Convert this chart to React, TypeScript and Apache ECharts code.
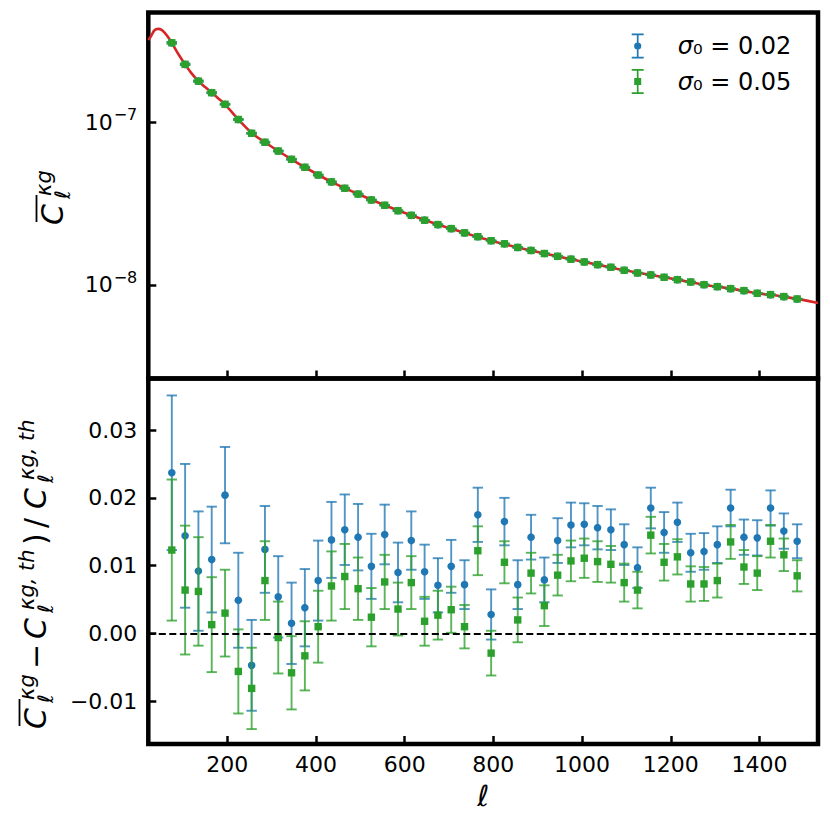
import React, { useEffect, useRef } from 'react';
import * as echarts from 'echarts';

// multipole bin centres
const ells = [75, 105, 135, 165, 195, 225, 255, 285, 315, 345, 375, 405, 435, 465, 495, 525, 555, 585, 615, 645, 675, 705, 735, 765, 795, 825, 855, 885, 915, 945, 975, 1005, 1035, 1065, 1095, 1125, 1155, 1185, 1215, 1245, 1275, 1305, 1335, 1365, 1395, 1425, 1455, 1485];

// measured mean spectrum (top panel)
const topValues = [3.08e-7, 2.27e-7, 1.79e-7, 1.52e-7, 1.29e-7, 1.04e-7, 8.56e-8, 7.54e-8, 6.66e-8, 5.92e-8, 5.29e-8, 4.74e-8, 4.30e-8, 3.93e-8, 3.62e-8, 3.33e-8, 3.09e-8, 2.86e-8, 2.68e-8, 2.50e-8, 2.35e-8, 2.22e-8, 2.09e-8, 1.98e-8, 1.87e-8, 1.79e-8, 1.70e-8, 1.63e-8, 1.56e-8, 1.50e-8, 1.44e-8, 1.385e-8, 1.333e-8, 1.285e-8, 1.231e-8, 1.185e-8, 1.152e-8, 1.115e-8, 1.078e-8, 1.043e-8, 1.004e-8, 9.76e-9, 9.49e-9, 9.23e-9, 8.89e-9, 8.72e-9, 8.48e-9, 8.20e-9];

// relative residuals, sigma0 = 0.02
const blueRes = [0.0237, 0.0144, 0.0092, 0.0109, 0.0204, 0.0049, -0.0047, 0.0124, 0.0054, 0.0015, 0.0038, 0.0078, 0.0138, 0.0153, 0.0142, 0.0099, 0.0146, 0.0090, 0.0137, 0.0091, 0.0071, 0.0099, 0.0072, 0.0175, 0.0028, 0.0165, 0.0072, 0.0142, 0.0079, 0.0137, 0.0160, 0.0161, 0.0156, 0.0153, 0.0131, 0.0097, 0.0185, 0.0149, 0.0164, 0.0119, 0.0121, 0.0131, 0.0185, 0.0142, 0.0141, 0.0185, 0.0151, 0.0136];
const blueErr = [0.0114, 0.0106, 0.0088, 0.0078, 0.0071, 0.0070, 0.0067, 0.0064, 0.0060, 0.0060, 0.0057, 0.0059, 0.0056, 0.0052, 0.0049, 0.0048, 0.0044, 0.0044, 0.0043, 0.0040, 0.0040, 0.0039, 0.0036, 0.0040, 0.0037, 0.0035, 0.0036, 0.0033, 0.0033, 0.0033, 0.0033, 0.0031, 0.0032, 0.0030, 0.0030, 0.0030, 0.0030, 0.0030, 0.0029, 0.0028, 0.0027, 0.0027, 0.0027, 0.0026, 0.0026, 0.0026, 0.0026, 0.0025];

// relative residuals, sigma0 = 0.05
const greenRes = [0.0123, 0.0064, 0.0062, 0.0013, 0.0030, -0.0056, -0.0081, 0.0078, -0.0006, -0.0058, -0.0033, 0.0010, 0.0070, 0.0084, 0.0066, 0.0024, 0.0076, 0.0036, 0.0075, 0.0018, 0.0027, 0.0035, 0.0010, 0.0122, -0.0029, 0.0105, 0.0020, 0.0089, 0.0041, 0.0086, 0.0107, 0.0111, 0.0106, 0.0102, 0.0075, 0.0064, 0.0145, 0.0105, 0.0113, 0.0073, 0.0073, 0.0078, 0.0135, 0.0098, 0.0089, 0.0136, 0.0116, 0.0085];
const greenErr = [0.0104, 0.0095, 0.0080, 0.0070, 0.0064, 0.0062, 0.0060, 0.0058, 0.0053, 0.0054, 0.0051, 0.0053, 0.0051, 0.0048, 0.0046, 0.0043, 0.0040, 0.0039, 0.0039, 0.0036, 0.0036, 0.0034, 0.0032, 0.0036, 0.0033, 0.0031, 0.0033, 0.0030, 0.0030, 0.0030, 0.0030, 0.0029, 0.0030, 0.0027, 0.0028, 0.0027, 0.0027, 0.0027, 0.0026, 0.0026, 0.0025, 0.0025, 0.0025, 0.0025, 0.0025, 0.0024, 0.0024, 0.0023];

// theory curve
const thEll = [22, 28, 36, 44, 52, 60, 68, 75, 90, 105, 120, 135, 150, 165, 180, 195, 225, 255, 285, 315, 345, 375, 435, 495, 555, 615, 675, 735, 795, 855, 915, 975, 1035, 1095, 1155, 1215, 1275, 1335, 1395, 1455, 1532];
const thVals = [3.2e-7, 3.38e-7, 3.68e-7, 3.75e-7, 3.70e-7, 3.52e-7, 3.30e-7, 3.08e-7, 2.62e-7, 2.27e-7, 1.99e-7, 1.79e-7, 1.648e-7, 1.52e-7, 1.40e-7, 1.29e-7, 1.04e-7, 8.6e-8, 7.54e-8, 6.66e-8, 5.92e-8, 5.29e-8, 4.30e-8, 3.62e-8, 3.09e-8, 2.68e-8, 2.35e-8, 2.09e-8, 1.87e-8, 1.70e-8, 1.56e-8, 1.44e-8, 1.333e-8, 1.231e-8, 1.152e-8, 1.078e-8, 1.004e-8, 9.49e-9, 8.89e-9, 8.48e-9, 7.75e-9];

// ticks
const xTicks = [200, 400, 600, 800, 1000, 1200, 1400];
const resTicks = [-0.01, 0, 0.01, 0.02, 0.03];
const logTicks = [1e-8, 1e-7];
const seriesNames = ['σ₀ = 0.02', 'σ₀ = 0.05'];

const BLUE = '#1f77b4';
const GREEN = '#2ca02c';
const RED = '#d62728';
const FONT = 'DejaVu Sans';

const X_MIN = 22, X_MAX = 1532;
const TOP_MIN = 2.66e-9, TOP_MAX = 4.73e-7;
const RES_MIN = -0.0163, RES_MAX = 0.0376;

function errRender(kind: 'circle' | 'square', color: string) {
  return (params: any, api: any) => {
    const x = api.value(0);
    const y = api.value(1);
    const e = api.value(2);
    const c = api.coord([x, y]);
    const t = api.coord([x, y + e]);
    const b = api.coord([x, y - e]);
    const cap = 5.2;
    const bar = { stroke: color, lineWidth: 1.9, opacity: 0.78 };
    const marker =
      kind === 'circle'
        ? { type: 'circle', shape: { cx: c[0], cy: c[1], r: 3.8 }, style: { fill: color } }
        : { type: 'rect', shape: { x: c[0] - 3.7, y: c[1] - 3.7, width: 7.4, height: 7.4 }, style: { fill: color } };
    return {
      type: 'group',
      children: [
        { type: 'line', shape: { x1: c[0], y1: t[1], x2: c[0], y2: b[1] }, style: bar },
        { type: 'line', shape: { x1: c[0] - cap, y1: t[1], x2: c[0] + cap, y2: t[1] }, style: bar },
        { type: 'line', shape: { x1: c[0] - cap, y1: b[1], x2: c[0] + cap, y2: b[1] }, style: bar },
        marker,
      ],
    };
  };
}

function txt(text: string, x: number, baseline: number, size: number, italic = true) {
  return {
    type: 'text',
    x,
    y: baseline - 0.346 * size,
    style: {
      text,
      fontSize: size,
      fontFamily: FONT,
      fontStyle: italic ? 'italic' : 'normal',
      fill: '#000',
      textAlign: 'left',
      textVerticalAlign: 'middle',
      align: 'left',
      verticalAlign: 'middle',
    },
  };
}
function bar(x1: number, x2: number, y: number) {
  return { type: 'line', shape: { x1, y1: y, x2, y2: y }, style: { stroke: '#000', lineWidth: 1.8 } };
}

const BIG = 30;
const SML = 21;
const SUP = -11.5;
const SUB = 7;
const OVER = -26.5;

const topLabel = {
  type: 'group',
  x: 63,
  y: 225,
  rotation: Math.PI / 2,
  children: [
    txt('C', 0, 0, BIG),
    bar(3, 30, OVER),
    txt('κg', 29, SUP, SML),
    txt('ℓ', 26, SUB, SML),
  ],
};

const bottomLabel = {
  type: 'group',
  x: 46,
  y: 729,
  rotation: Math.PI / 2,
  children: [
    txt('C', 0, 0, BIG),
    bar(3, 30, OVER),
    txt('κg', 29, SUP, SML),
    txt('ℓ', 26, SUB, SML),
    txt('−', 60, 0, BIG, false),
    txt('C', 90, 0, BIG),
    txt('κg, th', 119, SUP, SML),
    txt('ℓ', 116, SUB, SML),
    txt(')', 184, 0, BIG, false),
    txt('/', 201, 0, BIG, false),
    txt('C', 220, 0, BIG),
    txt('κg, th', 249, SUP, SML),
    txt('ℓ', 246, SUB, SML),
  ],
};

const circleIcon =
  'path://M0 0H12V1.7H0Z M5.15 0H6.85V25H5.15Z M0 23.3H12V25H0Z M9.6 12.5A3.6 3.6 0 1 1 2.4 12.5A3.6 3.6 0 1 1 9.6 12.5Z';
const squareIcon =
  'path://M0 0H12V1.7H0Z M5.15 0H6.85V25H5.15Z M0 23.3H12V25H0Z M2.5 9H9.5V16H2.5Z';

export default function App() {
  const ref = useRef<HTMLDivElement>(null);
  useEffect(() => {
    if (!ref.current) return;
    const chart = echarts.init(ref.current, undefined, { renderer: 'svg' });

    const blueBottom = ells.map((l, i) => [l, blueRes[i], blueErr[i]]);
    const greenBottom = ells.map((l, i) => [l, greenRes[i], greenErr[i]]);
    const blueTop = ells.map((l, i) => [l, topValues[i], topValues[i] * blueErr[i]]);
    const greenTop = ells.map((l, i) => [l, topValues[i], topValues[i] * greenErr[i]]);
    const theory = thEll.map((l, i) => [l, thVals[i]]);

    const tickStyle = { show: true, inside: true, length: 8, lineStyle: { color: '#000', width: 2.5 } };
    const labelFont = { color: '#000', fontFamily: FONT, fontSize: 22 };

    const option: any = {
      animation: false,
      backgroundColor: '#fff',
      grid: [
        { left: 148.3, top: 12.5, width: 669.7, height: 366, show: true, borderColor: '#000', borderWidth: 4.5, backgroundColor: 'transparent' },
        { left: 148.3, top: 378.5, width: 669.7, height: 365.5, show: true, borderColor: '#000', borderWidth: 4.5, backgroundColor: 'transparent' },
      ],
      xAxis: [
        {
          type: 'value', gridIndex: 0, min: X_MIN, max: X_MAX,
          axisLine: { show: false, onZero: false },
          axisTick: { ...tickStyle, customValues: xTicks },
          axisLabel: { show: false },
          splitLine: { show: false },
        },
        {
          type: 'value', gridIndex: 1, min: X_MIN, max: X_MAX,
          axisLine: { show: false, onZero: false },
          axisTick: { ...tickStyle, customValues: xTicks },
          axisLabel: { ...labelFont, margin: 9, customValues: xTicks, formatter: (v: number) => String(v) },
          splitLine: { show: false },
          name: 'ℓ',
          nameLocation: 'middle',
          nameGap: 37,
          nameTextStyle: { color: '#000', fontFamily: FONT, fontSize: 29, fontStyle: 'italic' },
        },
      ],
      yAxis: [
        {
          type: 'log', logBase: 10, gridIndex: 0, min: TOP_MIN, max: TOP_MAX,
          axisLine: { show: false, onZero: false },
          axisTick: { ...tickStyle, customValues: logTicks },
          axisLabel: {
            ...labelFont,
            margin: 11,
            customValues: logTicks,
            formatter: (v: number) => {
              const e = Math.round(Math.log10(v));
              return '{b|10}{s|−' + Math.abs(e) + '}';
            },
            rich: {
              b: { fontSize: 22, fontFamily: FONT, color: '#000' },
              s: { fontSize: 16, fontFamily: FONT, color: '#000', padding: [0, 0, 15, 1] },
            },
          },
          splitLine: { show: false },
        },
        {
          type: 'value', gridIndex: 1, min: RES_MIN, max: RES_MAX,
          axisLine: { show: false, onZero: false },
          axisTick: { ...tickStyle, customValues: resTicks },
          axisLabel: {
            ...labelFont,
            margin: 11,
            customValues: resTicks,
            formatter: (v: number) => (v < -1e-9 ? '−' + Math.abs(v).toFixed(2) : Math.abs(v).toFixed(2)),
          },
          splitLine: { show: false },
        },
      ],
      legend: {
        orient: 'vertical',
        left: 626.7,
        top: 28.5,
        itemWidth: 12,
        itemHeight: 25,
        itemGap: 10.5,
        data: [
          { name: seriesNames[0], icon: circleIcon, itemStyle: { color: BLUE } },
          { name: seriesNames[1], icon: squareIcon, itemStyle: { color: GREEN } },
        ],
        formatter: (n: string) => '{i|σ}{t|' + n.slice(1) + '}',
        textStyle: {
          color: '#000',
          fontFamily: FONT,
          fontSize: 24,
          lineHeight: 25,
          padding: [0, 0, 0, 29],
          rich: {
            i: { fontSize: 24, lineHeight: 25, fontFamily: FONT, fontStyle: 'italic', color: '#000' },
            t: { fontSize: 24, lineHeight: 25, fontFamily: FONT, color: '#000' },
          },
        },
        selectedMode: false,
      },
      graphic: [topLabel, bottomLabel],
      series: [
        {
          type: 'line',
          name: 'theory',
          xAxisIndex: 0,
          yAxisIndex: 0,
          data: theory,
          smooth: 0.3,
          showSymbol: false,
          symbol: 'none',
          lineStyle: { color: RED, width: 2.6 },
          z: 1,
          silent: true,
        },
        {
          type: 'custom',
          name: seriesNames[0],
          xAxisIndex: 0,
          yAxisIndex: 0,
          data: blueTop,
          encode: { x: 0, y: 1 },
          renderItem: errRender('circle', BLUE),
          itemStyle: { color: BLUE },
          z: 2,
        },
        {
          type: 'custom',
          name: seriesNames[1],
          xAxisIndex: 0,
          yAxisIndex: 0,
          data: greenTop,
          encode: { x: 0, y: 1 },
          renderItem: errRender('square', GREEN),
          itemStyle: { color: GREEN },
          z: 3,
        },
        {
          type: 'custom',
          name: seriesNames[0],
          xAxisIndex: 1,
          yAxisIndex: 1,
          data: blueBottom,
          encode: { x: 0, y: 1 },
          renderItem: errRender('circle', BLUE),
          itemStyle: { color: BLUE },
          z: 2,
          markLine: {
            silent: true,
            symbol: ['none', 'none'],
            label: { show: false },
            lineStyle: { color: '#000', type: [7, 3.5], width: 2 },
            data: [{ yAxis: 0 }],
          },
        },
        {
          type: 'custom',
          name: seriesNames[1],
          xAxisIndex: 1,
          yAxisIndex: 1,
          data: greenBottom,
          encode: { x: 0, y: 1 },
          renderItem: errRender('square', GREEN),
          itemStyle: { color: GREEN },
          z: 3,
        },
      ],
    };
    chart.setOption(option);
    return () => chart.dispose();
  }, []);
  return <div ref={ref} style={{ position: 'fixed', left: 0, top: 0, width: 830, height: 830, background: '#fff' }} />;
}
